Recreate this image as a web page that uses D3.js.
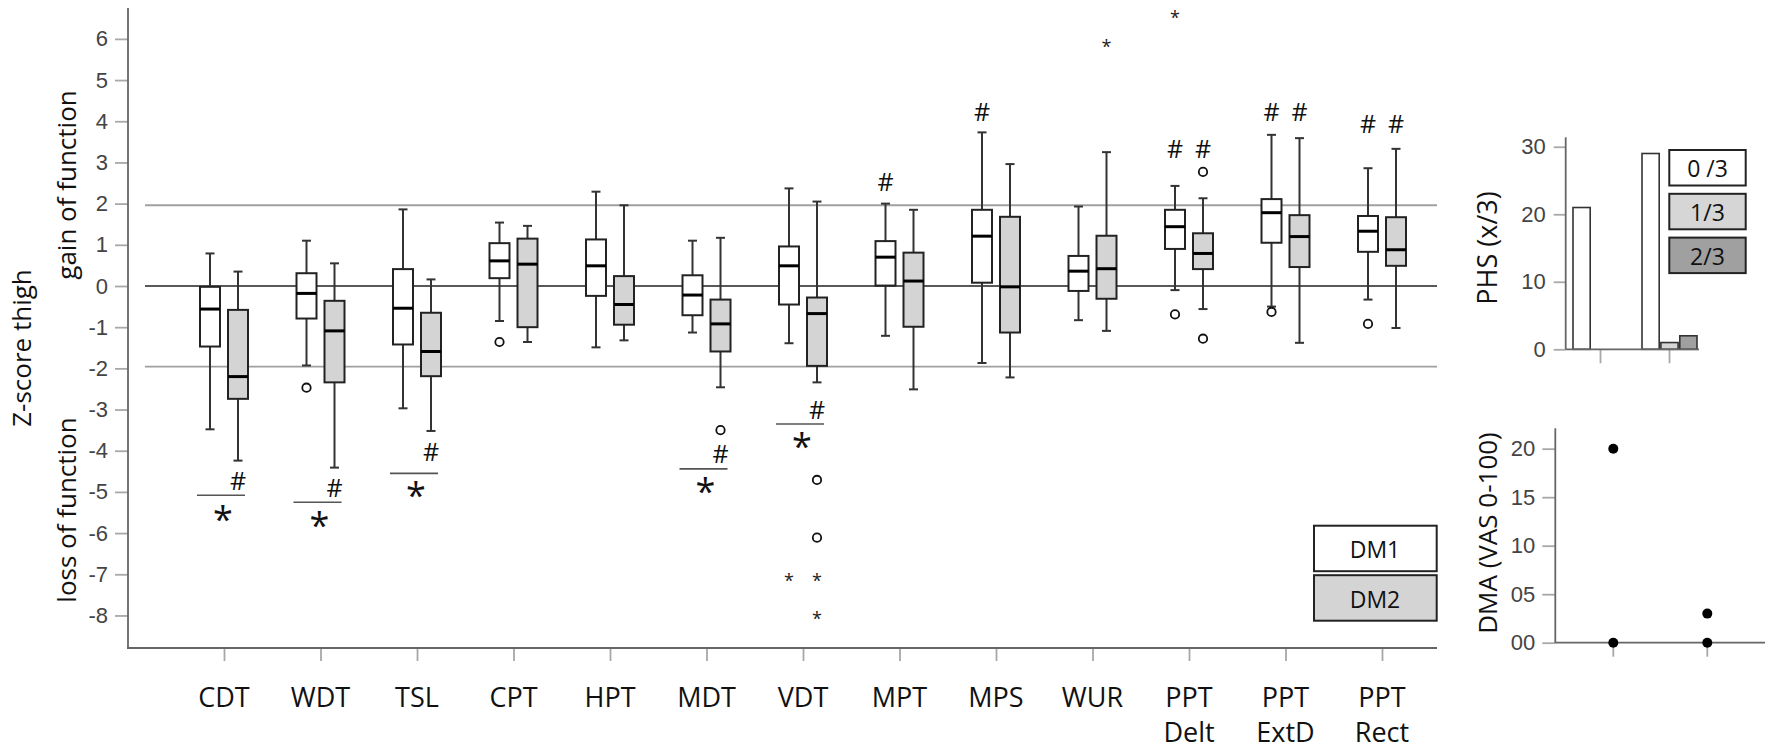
<!DOCTYPE html>
<html><head><meta charset="utf-8">
<script src="https://cdn.jsdelivr.net/npm/d3@7"></script>
<style>body{margin:0;background:#fff}svg{display:block}</style>
</head><body>
<svg id="chart" width="1772" height="750"></svg>
<script>
// ---------------- DATA ----------------
const categories = ["CDT","WDT","TSL","CPT","HPT","MDT","VDT","MPT","MPS","WUR","PPT Delt","PPT ExtD","PPT Rect"];
const yTicks = [-8,-7,-6,-5,-4,-3,-2,-1,0,1,2,3,4,5,6];
const referenceLines = [-1.96, 0, 1.96];

// DM1 (white) five-number summaries
const dm1Low    = [-3.48,-1.93,-2.97,-0.85,-1.49,-1.13,-1.39,-1.21,-1.87,-0.83,-0.10,-0.50,-0.33];
const dm1Q1     = [-1.47,-0.79,-1.42, 0.19,-0.24,-0.71,-0.45, 0.01, 0.08,-0.12, 0.90, 1.05, 0.83];
const dm1Median = [-0.56,-0.18,-0.54, 0.61, 0.49,-0.22, 0.49, 0.70, 1.21, 0.36, 1.44, 1.78, 1.33];
const dm1Q3     = [-0.02, 0.31, 0.41, 1.04, 1.13, 0.26, 0.96, 1.09, 1.85, 0.73, 1.85, 2.11, 1.70];
const dm1High   = [ 0.79, 1.10, 1.86, 1.54, 2.29, 1.10, 2.37, 2.00, 3.73, 1.93, 2.43, 3.67, 2.86];
// DM2 (grey) five-number summaries
const dm2Low    = [-4.24,-4.41,-3.52,-1.36,-1.32,-2.46,-2.34,-2.51,-2.22,-1.09,-0.56,-1.38,-1.02];
const dm2Q1     = [-2.74,-2.34,-2.19,-1.00,-0.94,-1.59,-1.94,-0.99,-1.13,-0.31, 0.41, 0.46, 0.49];
const dm2Median = [-2.20,-1.09,-1.59, 0.53,-0.45,-0.92,-0.67, 0.12,-0.02, 0.42, 0.79, 1.20, 0.88];
const dm2Q3     = [-0.58,-0.36,-0.65, 1.15, 0.24,-0.33,-0.28, 0.81, 1.68, 1.22, 1.28, 1.72, 1.67];
const dm2High   = [ 0.35, 0.55, 0.16, 1.46, 1.96, 1.17, 2.05, 1.85, 2.96, 3.25, 2.13, 3.59, 3.33];

// outliers (circles) and extremes (stars)
const dm1Outliers = [[],[-2.47],[],[-1.36],[],[],[],[],[],[],[-0.69],[-0.63],[-0.92]];
const dm2Outliers = [[],[],[],[],[],[-3.50],[-4.71,-6.11],[],[],[],[2.77,-1.28],[],[]];
const dm1Extremes = [[],[],[],[],[],[],[-7.08],[],[],[],[6.58],[],[]];
const dm2Extremes = [[],[],[],[],[],[],[-7.08,-8.01],[],[],[5.87],[],[],[]];

// significance marks below boxes
const sigCategories = ["CDT","WDT","TSL","MDT","VDT"];
const sigLineValue  = [-5.08,-5.25,-4.55,-4.44,-3.35];
const sigHashValue  = [-4.74,-4.91,-4.02,-4.08,-3.01];
const sigStarValue  = [-5.48,-5.64,-4.91,-4.81,-3.72];
// '#' marks above boxes
const hashCategories = ["MPT","MPS","PPT Delt","PPT Delt","PPT ExtD","PPT ExtD","PPT Rect","PPT Rect"];
const hashGroups     = [1,1,1,2,1,2,1,2];
const hashValues     = [2.53,4.22,3.33,3.33,4.22,4.22,3.93,3.93];

const legendLabels = ["DM1","DM2"];

// PHS panel
const phsGroups = ["DM1","DM2"];
const phsLevels = ["0 /3","1/3","2/3"];
const phs0 = [21, 29];
const phs1 = [0, 1];
const phs2 = [0, 2];
const phsTicks = [0,10,20,30];

// DMA panel
const dmaGroups = ["DM1","DM2"];
const dmaDM1 = [20, 0];
const dmaDM2 = [3, 0];
const dmaTicks = [0,5,10,15,20];
const dmaTickLabels = ["00","05","10","15","20"];

// ---------------- DRAWING ----------------
const svg = d3.select("#chart");
const FONT = "'Open Sans', sans-serif";
const TFONT = "'Liberation Sans', Arial, sans-serif";
const fillFor = {1: "#ffffff", 2: "#d4d4d4"};

const x = d3.scalePoint().domain(categories).range([224, 1382]);
const y = d3.scaleLinear().domain([-8.79, 6.75]).range([648, 8]);
const offset = {1: -14, 2: 14};
const boxW = 20, capW = 9;

// reference lines
svg.append("g").selectAll("line").data(referenceLines).join("line")
  .attr("x1", 145).attr("x2", 1437)
  .attr("y1", d => y(d)).attr("y2", d => y(d))
  .attr("stroke", d => d === 0 ? "#222" : "#a0a0a0")
  .attr("stroke-width", d => d === 0 ? 1.6 : 1.8);

// y axis
const yAxisG = svg.append("g").attr("transform", "translate(128,0)")
  .call(d3.axisLeft(y).tickValues(yTicks).tickSize(13).tickPadding(7).tickFormat(d => String(d)));
yAxisG.select(".domain").remove();
yAxisG.selectAll(".tick line").attr("stroke", "#a8a8a8").attr("stroke-width", 1.8);
yAxisG.selectAll(".tick text").attr("font-family", TFONT).attr("font-size", 22).attr("fill", "#444");
svg.append("line").attr("x1", 128).attr("x2", 128).attr("y1", 8).attr("y2", 648)
  .attr("stroke", "#666").attr("stroke-width", 1.8);

// x axis
const xAxisG = svg.append("g").attr("transform", "translate(0,648)")
  .call(d3.axisBottom(x).tickSize(13).tickFormat(""));
xAxisG.select(".domain").remove();
xAxisG.selectAll(".tick line").attr("stroke", "#a8a8a8").attr("stroke-width", 1.8);
svg.append("line").attr("x1", 127).attr("x2", 1437).attr("y1", 648).attr("y2", 648)
  .attr("stroke", "#666").attr("stroke-width", 1.8);

// category labels
const catLab = svg.append("g").selectAll("text").data(categories).join("text")
  .attr("x", d => x(d)).attr("y", 707)
  .attr("text-anchor", "middle").attr("font-family", FONT).attr("font-size", 27).attr("fill", "#111");
catLab.selectAll("tspan").data(d => d.split(" ").map(w => ({w, c: d}))).join("tspan")
  .attr("x", d => x(d.c)).attr("dy", (d, i) => i === 0 ? 0 : 35).text(d => d.w);

// box plots
function drawGroup(g, low, q1, med, q3, high, outl, extr) {
  const grp = svg.append("g");
  const rows = categories.map((c, i) => ({c, cx: x(c) + offset[g], low: low[i], q1: q1[i], med: med[i], q3: q3[i], high: high[i], outl: outl[i], extr: extr[i]}));
  // whiskers
  grp.selectAll(".wh").data(rows).join("line")
    .attr("x1", d => d.cx).attr("x2", d => d.cx)
    .attr("y1", d => y(d.low)).attr("y2", d => y(d.high))
    .attr("stroke", "#333").attr("stroke-width", 2);
  ["low","high"].forEach(k => {
    grp.selectAll(".cap" + k).data(rows).join("line")
      .attr("x1", d => d.cx - capW / 2).attr("x2", d => d.cx + capW / 2)
      .attr("y1", d => y(d[k])).attr("y2", d => y(d[k]))
      .attr("stroke", "#333").attr("stroke-width", 2);
  });
  grp.selectAll(".box").data(rows).join("rect")
    .attr("x", d => d.cx - boxW / 2).attr("width", boxW)
    .attr("y", d => y(d.q3)).attr("height", d => y(d.q1) - y(d.q3))
    .attr("fill", fillFor[g]).attr("stroke", "#222").attr("stroke-width", 2);
  grp.selectAll(".med").data(rows).join("line")
    .attr("x1", d => d.cx - boxW / 2).attr("x2", d => d.cx + boxW / 2)
    .attr("y1", d => y(d.med)).attr("y2", d => y(d.med))
    .attr("stroke", "#000").attr("stroke-width", 3);
  const outs = rows.flatMap(d => d.outl.map(v => ({cx: d.cx, v})));
  grp.selectAll(".out").data(outs).join("circle")
    .attr("cx", d => d.cx).attr("cy", d => y(d.v)).attr("r", 4.2)
    .attr("fill", "#fff").attr("stroke", "#111").attr("stroke-width", 1.8);
  const ext = rows.flatMap(d => d.extr.map(v => ({cx: d.cx, v})));
  grp.selectAll(".ext").data(ext).join("text")
    .attr("x", d => d.cx).attr("y", d => y(d.v) + 9)
    .attr("text-anchor", "middle").attr("font-family", FONT).attr("font-size", 18).attr("fill", "#222")
    .text("*");
}
drawGroup(1, dm1Low, dm1Q1, dm1Median, dm1Q3, dm1High, dm1Outliers, dm1Extremes);
drawGroup(2, dm2Low, dm2Q1, dm2Median, dm2Q3, dm2High, dm2Outliers, dm2Extremes);

// significance annotations below
const sig = sigCategories.map((c, i) => ({c, line: sigLineValue[i], hash: sigHashValue[i], star: sigStarValue[i]}));
const sigG = svg.append("g");
sigG.selectAll("line").data(sig).join("line")
  .attr("x1", d => x(d.c) - 27).attr("x2", d => x(d.c) + 21)
  .attr("y1", d => y(d.line)).attr("y2", d => y(d.line))
  .attr("stroke", "#555").attr("stroke-width", 1.6);
sigG.selectAll(".h").data(sig).join("text")
  .attr("x", d => x(d.c) + offset[2]).attr("y", d => y(d.hash) + 9)
  .attr("text-anchor", "middle").attr("font-family", FONT).attr("font-size", 25).attr("fill", "#111").text("#");
sigG.selectAll(".s").data(sig).join("text")
  .attr("x", d => x(d.c) - 1).attr("y", d => y(d.star) + 20)
  .attr("text-anchor", "middle").attr("font-family", FONT).attr("font-size", 36).attr("fill", "#111").text("*");

// '#' above boxes
svg.append("g").selectAll("text").data(hashCategories.map((c, i) => ({c, g: hashGroups[i], v: hashValues[i]}))).join("text")
  .attr("x", d => x(d.c) + offset[d.g]).attr("y", d => y(d.v) + 9)
  .attr("text-anchor", "middle").attr("font-family", FONT).attr("font-size", 25).attr("fill", "#111").text("#");

// y titles
function vtext(tx, ty, txt, size) {
  svg.append("text").attr("transform", `translate(${tx},${ty}) rotate(-90)`)
    .attr("text-anchor", "middle").attr("font-family", FONT).attr("font-size", size).attr("fill", "#111").text(txt);
}
vtext(31, 348, "Z-score thigh", 26);
vtext(76, 185, "gain of function", 26);
vtext(76, 510, "loss of function", 26);

// legend DM1 / DM2
const leg = svg.append("g").selectAll("g").data(legendLabels).join("g")
  .attr("transform", (d, i) => `translate(1314,${525.7 + i * 49.5})`);
leg.append("rect").attr("width", 122.7).attr("height", 45.5)
  .attr("fill", (d, i) => fillFor[i + 1]).attr("stroke", "#222").attr("stroke-width", 2);
leg.append("text").attr("x", 61).attr("y", 32.5).attr("text-anchor", "middle")
  .attr("font-family", FONT).attr("font-size", 23).attr("fill", "#111").text(d => d);

// ---------------- PHS panel ----------------
const px = d3.scaleBand().domain(phsGroups).range([1566, 1704]);
const py = d3.scaleLinear().domain([0, 31.4]).range([349.3, 137.3]);
const pInner = d3.scaleBand().domain(phsLevels).range([-27.5, 27.5]).paddingInner(0.09);
const phsFill = {"0 /3": "#ffffff", "1/3": "#d6d6d6", "2/3": "#a0a0a0"};
const phsVals = {"0 /3": phs0, "1/3": phs1, "2/3": phs2};

const pyAxis = svg.append("g").attr("transform", "translate(1565.7,0)")
  .call(d3.axisLeft(py).tickValues(phsTicks).tickSize(12).tickPadding(8));
pyAxis.select(".domain").remove();
pyAxis.selectAll(".tick line").attr("stroke", "#a8a8a8").attr("stroke-width", 1.8);
pyAxis.selectAll(".tick text").attr("font-family", TFONT).attr("font-size", 22).attr("fill", "#444");
svg.append("line").attr("x1", 1565.7).attr("x2", 1565.7).attr("y1", 137.3).attr("y2", 349.3).attr("stroke", "#666").attr("stroke-width", 1.8);
const pxAxis = svg.append("g").attr("transform", "translate(0,349.3)")
  .call(d3.axisBottom(px).tickSize(14).tickFormat(""));
pxAxis.select(".domain").remove();
pxAxis.selectAll(".tick line").attr("stroke", "#a8a8a8").attr("stroke-width", 1.8);

const bars = phsGroups.flatMap((g, gi) => phsLevels.map(l => ({g, l, v: phsVals[l][gi]}))).filter(d => d.v > 0);
svg.append("g").selectAll("rect").data(bars).join("rect")
  .attr("x", d => px(d.g) + px.bandwidth() / 2 + pInner(d.l))
  .attr("width", pInner.bandwidth())
  .attr("y", d => py(d.v)).attr("height", d => py(0) - py(d.v))
  .attr("fill", d => phsFill[d.l]).attr("stroke", "#333").attr("stroke-width", 1.6);
svg.append("line").attr("x1", 1565.7).attr("x2", 1699).attr("y1", 349.3).attr("y2", 349.3).attr("stroke", "#666").attr("stroke-width", 1.8);

vtext(1497, 248, "PHS (x/3)", 27);

const pleg = svg.append("g").selectAll("g").data(phsLevels).join("g")
  .attr("transform", (d, i) => `translate(1669.3,${150 + i * 43.8})`);
pleg.append("rect").attr("width", 76.4).attr("height", 35.5)
  .attr("fill", d => phsFill[d]).attr("stroke", "#222").attr("stroke-width", 2);
pleg.append("text").attr("x", 38.2).attr("y", 27).attr("text-anchor", "middle")
  .attr("font-family", FONT).attr("font-size", 23).attr("fill", "#111").text(d => d);

// ---------------- DMA panel ----------------
const dx = d3.scaleBand().domain(dmaGroups).range([1566.3, 1754.3]);
const dy = d3.scaleLinear().domain([0, 22.1]).range([642.7, 428.3]);
const dyAxis = svg.append("g").attr("transform", "translate(1555.3,0)")
  .call(d3.axisLeft(dy).tickValues(dmaTicks).tickSize(13).tickPadding(7).tickFormat((d, i) => dmaTickLabels[i]));
dyAxis.select(".domain").remove();
dyAxis.selectAll(".tick line").attr("stroke", "#a8a8a8").attr("stroke-width", 1.8);
dyAxis.selectAll(".tick text").attr("font-family", TFONT).attr("font-size", 22).attr("fill", "#444");
const dxAxis = svg.append("g").attr("transform", "translate(0,642.7)")
  .call(d3.axisBottom(dx).tickSize(14).tickFormat(""));
dxAxis.select(".domain").remove();
dxAxis.selectAll(".tick line").attr("stroke", "#a8a8a8").attr("stroke-width", 1.8);
svg.append("line").attr("x1", 1555.3).attr("x2", 1555.3).attr("y1", 428.3).attr("y2", 643).attr("stroke", "#666").attr("stroke-width", 1.8);
svg.append("line").attr("x1", 1555.3).attr("x2", 1765).attr("y1", 642.7).attr("y2", 642.7).attr("stroke", "#666").attr("stroke-width", 1.8);

const dots = [...dmaDM1.map(v => ({g: "DM1", v})), ...dmaDM2.map(v => ({g: "DM2", v}))];
svg.append("g").selectAll("circle").data(dots).join("circle")
  .attr("cx", d => dx(d.g) + dx.bandwidth() / 2).attr("cy", d => dy(d.v)).attr("r", 5)
  .attr("fill", "#000");

vtext(1497, 533, "DMA (VAS 0-100)", 26);
</script>
</body></html>
